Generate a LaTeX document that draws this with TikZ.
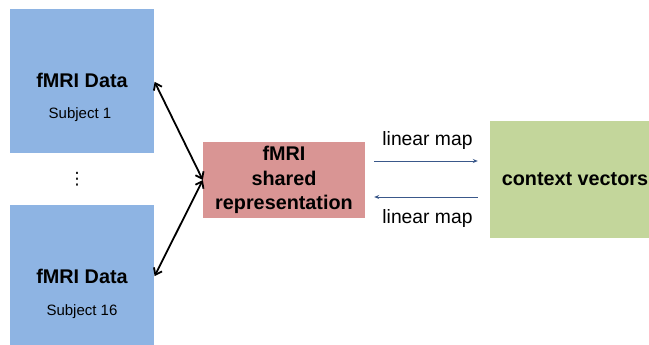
\documentclass[tikz,border=0pt]{standalone}
\usepackage{fontspec}
\setmainfont{Liberation Sans}
\newfontfamily\dotsfont{DejaVu Sans}
\usetikzlibrary{arrows.meta,positioning}

\definecolor{dataBlue}{RGB}{142,180,227}
\definecolor{sharedRed}{RGB}{217,149,148}
\definecolor{contextGreen}{RGB}{195,214,155}
\definecolor{mapBlue}{RGB}{58,88,138}

\begin{document}
\begin{tikzpicture}[x=1pt,y=-1pt,
    databox/.style={fill=dataBlue, minimum width=144pt, minimum height=144pt, inner sep=0pt},
    title/.style={font=\fontsize{19.8}{24.5}\selectfont\bfseries, align=center, inner sep=0pt},
    subj/.style={font=\fontsize{15}{17}\selectfont, inner sep=0pt},
    maptext/.style={font=\fontsize{19.3}{22}\selectfont},
    link/.style={{Straight Barb[length=6pt,width=9pt]}-{Straight Barb[length=6pt,width=9pt]}, line width=1.8pt},
    linmap/.style={-{Stealth[length=5pt,width=4pt]}, draw=mapBlue, line width=0.8pt}]
  \useasboundingbox (0,0) rectangle (649,345);
  \clip (0,0) rectangle (649,345);

  % subjects
  \node[databox] (data1) at (82,81) {};
  \node[title, anchor=base] (title1) at (82,88) {fMRI Data};
  \node[subj, anchor=base] (subj1) at (80,119) {Subject 1};

  \node[font=\dotsfont\fontsize{17}{17}\selectfont, inner sep=0pt] (dots) at (77,179) {⋮};

  \node[databox] (data16) at (82,277) {};
  \node[title, anchor=base] (title16) at (82,283) {fMRI Data};
  \node[subj, anchor=base] (subj16) at (82,315) {Subject 16};

  % shared space and context
  \node[title, fill=sharedRed, minimum width=162pt, minimum height=76pt] (shared) at (284,180)
    {fMRI\\shared\\representation};
  \node[title, fill=contextGreen, minimum width=170pt, minimum height=117pt] (context) at (575,179.5)
    {context vectors};

  \draw[link, shorten <=1pt] (data1.east) -- (shared.west);
  \draw[link, shorten <=1pt] (data16.east) -- (shared.west);

  \draw[linmap, shorten <=9pt, shorten >=12pt] ([yshift=19pt]shared.east) -- ([yshift=19pt]shared.east -| context.west)
    node[maptext, midway, above=7.5pt] {linear map};
  \draw[linmap, shorten <=12pt, shorten >=9pt] ([yshift=-17pt]shared.east -| context.west) -- ([yshift=-17pt]shared.east)
    node[maptext, midway, below=8.5pt] {linear map};
\end{tikzpicture}
\end{document}
